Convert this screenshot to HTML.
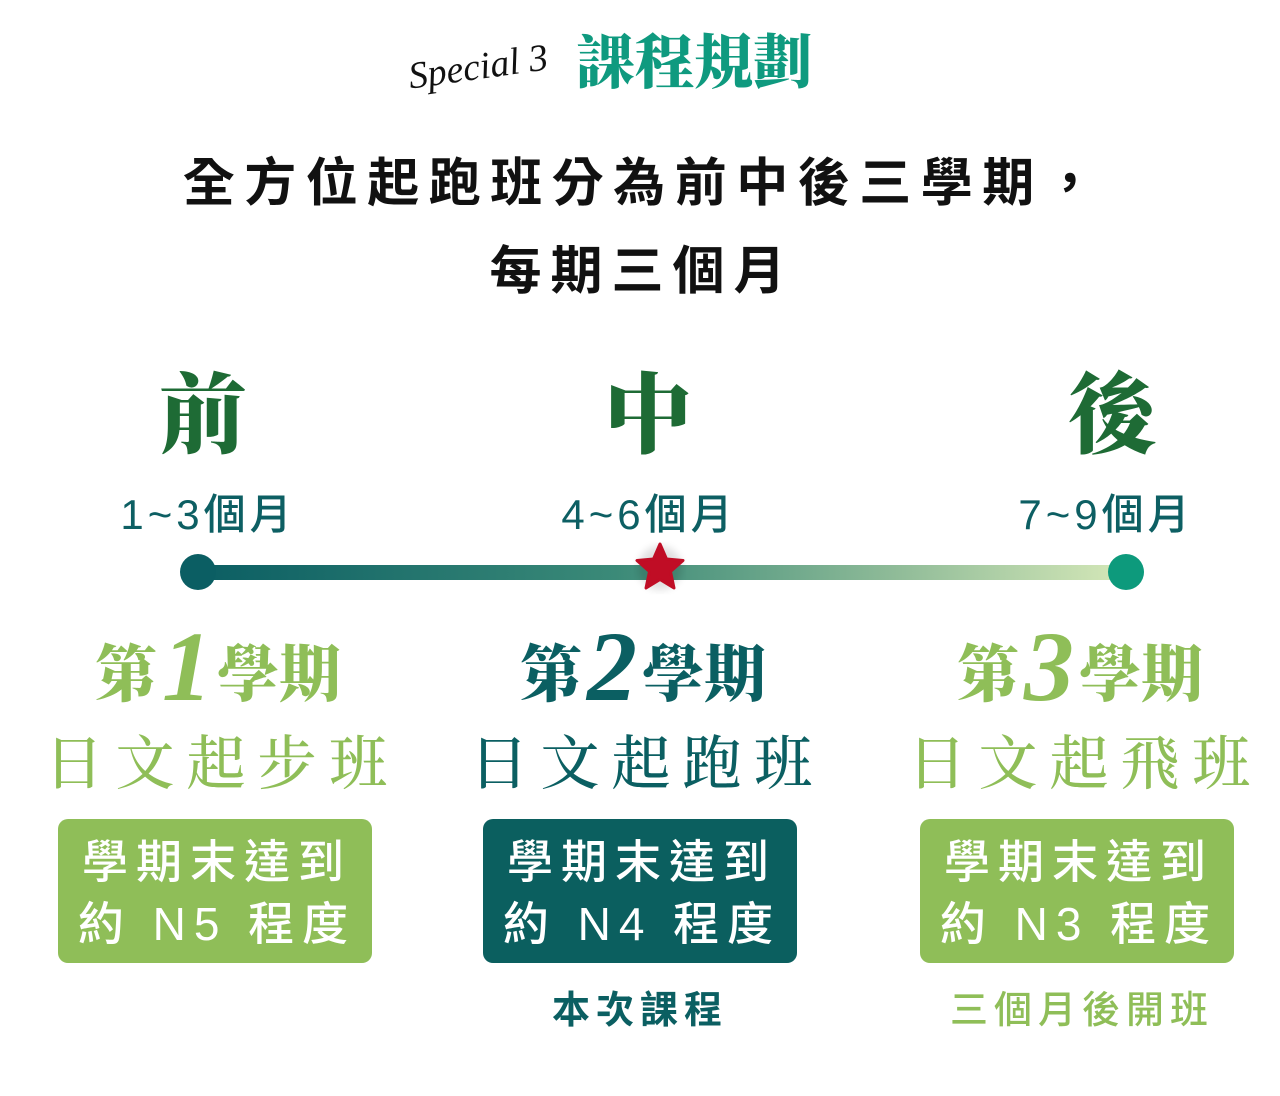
<!DOCTYPE html>
<html><head><meta charset="utf-8"><style>
body{margin:0;width:1280px;height:1096px;background:#fff;position:relative;overflow:hidden;font-family:"Liberation Sans","Noto Sans CJK TC",sans-serif}
.a{position:absolute;white-space:nowrap;line-height:1}
.c{transform:translateX(-50%)}
.serif{font-family:"Liberation Serif","Noto Serif CJK TC","Noto Serif CJK SC",serif}
.big{font-size:88px;font-weight:900;color:#1e6b35;top:374px}
.mon{font-size:42px;font-weight:500;color:#0d5f63;top:494px;letter-spacing:4px}
.sem{top:617px;font-weight:900;font-size:62px}
.sem b{font-size:100px;font-style:italic;font-family:"Liberation Serif",serif;font-weight:700;vertical-align:-4px;margin:0 5px}
.cls{top:735px;font-size:59px;letter-spacing:12px;font-weight:500}
.box{position:absolute;top:819px;height:144px;width:314px;border-radius:10px;color:#fff;font-size:46px;font-weight:500;letter-spacing:8px;text-align:center;line-height:62px;padding-top:12px;padding-left:4px;box-sizing:border-box}
.g{color:#8fbe58}.t{color:#0b5f62}
.sub{top:992px;font-size:38px;font-weight:700;letter-spacing:6px}
</style></head><body>
<div class="a" style="left:408px;top:48px;font-family:'Liberation Serif',serif;font-style:italic;font-size:38px;color:#111;transform:rotate(-8deg)">Special 3</div>
<div class="a serif" style="left:576px;top:34px;font-size:59px;font-weight:900;color:#0f9a7f">課程規劃</div>
<div class="a c" style="left:644px;top:158px;font-size:52px;font-weight:700;color:#111;letter-spacing:9.5px">全方位起跑班分為前中後三學期，</div>
<div class="a c" style="left:642px;top:246px;font-size:52px;font-weight:700;color:#111;letter-spacing:9px">每期三個月</div>
<div class="a c serif big" style="left:203px">前</div>
<div class="a c serif big" style="left:648px">中</div>
<div class="a c serif big" style="left:1112px">後</div>
<div class="a c mon" style="left:208px">1~3個月</div>
<div class="a c mon" style="left:649px">4~6個月</div>
<div class="a c mon" style="left:1106px">7~9個月</div>
<div class="a" style="left:198px;top:565px;width:928px;height:15px;background:linear-gradient(90deg,#0b5e63,#3b8a78 45%,#8fbb98 75%,#d5e8b8)"></div>
<div class="a" style="left:180px;top:554px;width:36px;height:36px;border-radius:50%;background:#0b5e63"></div>
<div class="a" style="left:1108px;top:554px;width:36px;height:36px;border-radius:50%;background:#0d9a7c"></div>
<svg class="a" style="left:628px;top:536px" width="64" height="64" viewBox="0 0 64 64"><defs><filter id="f"><feGaussianBlur stdDeviation="4"/></filter></defs><circle cx="32" cy="32" r="22" fill="#000" opacity=".12" filter="url(#f)"/><path d="M32 8 L38.5 23 L55 24.5 L42.5 35.5 L46 52 L32 43.5 L18 52 L21.5 35.5 L9 24.5 L25.5 23 Z" fill="#c00d25" stroke="#c00d25" stroke-width="3" stroke-linejoin="round"/></svg>
<div class="a c serif sem g" style="left:218px">第<b>1</b>學期</div>
<div class="a c serif sem t" style="left:643px">第<b>2</b>學期</div>
<div class="a c serif sem g" style="left:1080px">第<b>3</b>學期</div>
<div class="a c serif cls g" style="left:222px">日文起步班</div>
<div class="a c serif cls t" style="left:647px">日文起跑班</div>
<div class="a c serif cls g" style="left:1085px">日文起飛班</div>
<div class="box" style="left:58px;background:#8fbe58">學期末達到<br>約 N5 程度</div>
<div class="box" style="left:483px;background:#0b5f5f">學期末達到<br>約 N4 程度</div>
<div class="box" style="left:920px;background:#8fbe58">學期末達到<br>約 N3 程度</div>
<div class="a c sub t" style="left:640px">本次課程</div>
<div class="a c sub g" style="left:1082px;font-weight:500">三個月後開班</div>
</body></html>
